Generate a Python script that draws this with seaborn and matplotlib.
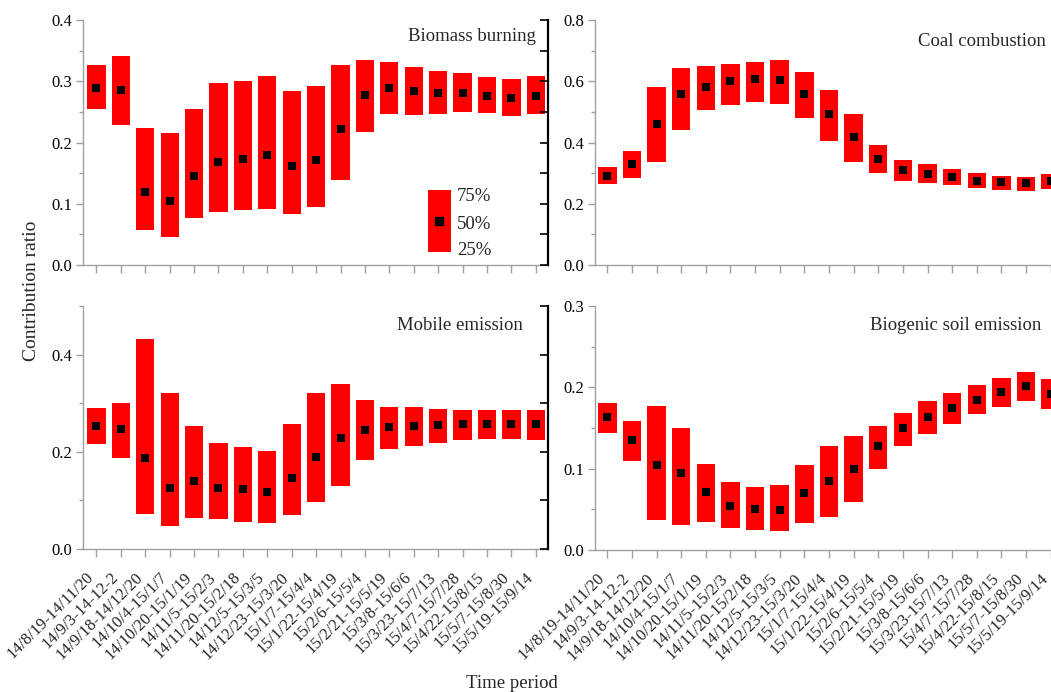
import numpy as np
import pandas as pd
import matplotlib
matplotlib.use("Agg")
import matplotlib.pyplot as plt
import matplotlib.transforms as mtransforms
import seaborn as sns
from matplotlib.patches import Rectangle
from matplotlib.ticker import MultipleLocator, FormatStrFormatter

periods = ["14/8/19-14/11/20", "14/9/3-14-12-2", "14/9/18-14/12/20", "14/10/4-15/1/7",
           "14/10/20-15/1/19", "14/11/5-15/2/3", "14/11/20-15/2/18", "14/12/5-15/3/5",
           "14/12/23-15/3/20", "15/1/7-15/4/4", "15/1/22-15/4/19", "15/2/6-15/5/4",
           "15/2/21-15/5/19", "15/3/8-15/6/6", "15/3/23-15/7/13", "15/4/7-15/7/28",
           "15/4/22-15/8/15", "15/5/7-15/8/30", "15/5/19-15/9/14"]

biomass_q25 = [0.254, 0.229, 0.058, 0.046, 0.076, 0.087, 0.090, 0.092, 0.083, 0.094,
               0.139, 0.218, 0.247, 0.245, 0.247, 0.250, 0.248, 0.244, 0.247]
biomass_q50 = [0.289, 0.286, 0.120, 0.104, 0.145, 0.169, 0.173, 0.179, 0.161, 0.171,
               0.222, 0.278, 0.289, 0.284, 0.281, 0.281, 0.276, 0.273, 0.276]
biomass_q75 = [0.327, 0.341, 0.224, 0.216, 0.254, 0.298, 0.300, 0.309, 0.284, 0.293,
               0.326, 0.335, 0.332, 0.324, 0.317, 0.313, 0.307, 0.303, 0.308]

coal_q25 = [0.264, 0.284, 0.338, 0.442, 0.505, 0.524, 0.533, 0.526, 0.480, 0.405,
            0.337, 0.299, 0.275, 0.267, 0.260, 0.250, 0.246, 0.242, 0.248]
coal_q50 = [0.291, 0.329, 0.462, 0.559, 0.581, 0.600, 0.606, 0.605, 0.559, 0.493,
            0.417, 0.345, 0.309, 0.297, 0.288, 0.276, 0.270, 0.267, 0.273]
coal_q75 = [0.320, 0.373, 0.582, 0.645, 0.649, 0.658, 0.664, 0.668, 0.630, 0.571,
            0.492, 0.392, 0.342, 0.329, 0.315, 0.299, 0.292, 0.288, 0.298]

mobile_q25 = [0.216, 0.188, 0.073, 0.047, 0.064, 0.061, 0.055, 0.053, 0.070, 0.096,
              0.130, 0.183, 0.205, 0.212, 0.218, 0.225, 0.227, 0.227, 0.224]
mobile_q50 = [0.254, 0.247, 0.188, 0.125, 0.139, 0.125, 0.124, 0.117, 0.147, 0.190,
              0.229, 0.245, 0.251, 0.253, 0.255, 0.258, 0.258, 0.258, 0.258]
mobile_q75 = [0.290, 0.301, 0.432, 0.320, 0.254, 0.219, 0.210, 0.201, 0.257, 0.321,
              0.339, 0.306, 0.292, 0.292, 0.289, 0.287, 0.286, 0.286, 0.287]

soil_q25 = [0.144, 0.110, 0.037, 0.031, 0.035, 0.027, 0.025, 0.023, 0.033, 0.041,
            0.059, 0.100, 0.128, 0.143, 0.155, 0.167, 0.176, 0.183, 0.173]
soil_q50 = [0.164, 0.135, 0.104, 0.095, 0.071, 0.054, 0.050, 0.049, 0.070, 0.085,
            0.100, 0.128, 0.150, 0.163, 0.174, 0.185, 0.194, 0.202, 0.192]
soil_q75 = [0.181, 0.159, 0.177, 0.150, 0.106, 0.084, 0.078, 0.080, 0.105, 0.128,
            0.140, 0.153, 0.169, 0.183, 0.193, 0.203, 0.212, 0.219, 0.210]

sns.set_style("ticks")
plt.rcParams['font.family'] = ['Liberation Serif', 'DejaVu Serif']

GREY = '#a0a0a0'
fig = plt.figure(figsize=(10.51, 6.92), dpi=100)

panels = [
    dict(name="Biomass burning", q=(biomass_q25, biomass_q50, biomass_q75),
         ylim=(0, 0.4), major=0.1, minor=0.05, rmajor=0.05,
         pos=[0.079, 0.617, 0.4424, 0.354], xlim=(-0.55, 18.5), left=True,
         bottom_row=False, title_xy=(0.974, 0.932)),
    dict(name="Coal combustion", q=(coal_q25, coal_q50, coal_q75),
         ylim=(0, 0.8), major=0.2, minor=0.1, rmajor=0.1,
         pos=[0.5661, 0.617, 0.4453, 0.354], xlim=(-0.5, 18.5), left=False,
         bottom_row=False, title_xy=(0.964, 0.911)),
    dict(name="Mobile emission", q=(mobile_q25, mobile_q50, mobile_q75),
         ylim=(0, 0.5), major=0.2, minor=0.1, rmajor=0.1,
         pos=[0.079, 0.2066, 0.4424, 0.3512], xlim=(-0.55, 18.5), left=True,
         bottom_row=True, title_xy=(0.946, 0.918)),
    dict(name="Biogenic soil emission", q=(soil_q25, soil_q50, soil_q75),
         ylim=(0, 0.3), major=0.1, minor=0.05, rmajor=0.05,
         pos=[0.5661, 0.2052, 0.4453, 0.3526], xlim=(-0.5, 18.5), left=False,
         bottom_row=True, title_xy=(0.954, 0.922)),
]

# offset of the rotated period labels from (tick, axis bottom), in pixels at 100 dpi
label_offset = mtransforms.ScaledTranslation(-5 / 100, -26 / 100, fig.dpi_scale_trans)

for i, p in enumerate(panels):
    ax = fig.add_axes(p['pos'])
    q25, q50, q75 = p['q']
    df = pd.DataFrame({'period': periods, 'low': q25, 'mid': q50, 'high': q75})
    df['iqr'] = df['high'] - df['low']
    sns.barplot(data=df, x='period', y='iqr', bottom=df['low'].values, color='red',
                saturation=1, width=0.75, errorbar=None, linewidth=0, ax=ax)
    sns.scatterplot(x=np.arange(len(df)), y=df['mid'].values, marker='s', s=26,
                    color='black', linewidth=0, ax=ax, zorder=5)
    ax.set_xlabel('')
    ax.set_ylabel('')
    ax.set_xlim(*p['xlim'])
    ax.set_ylim(*p['ylim'])
    ax.yaxis.set_major_locator(MultipleLocator(p['major']))
    ax.yaxis.set_minor_locator(MultipleLocator(p['minor']))
    ax.yaxis.set_major_formatter(FormatStrFormatter('%.1f'))
    ax.set_xticks(range(len(periods)))
    ax.set_xticklabels([])
    if p['bottom_row']:
        trans = mtransforms.blended_transform_factory(ax.transData, ax.transAxes) + label_offset
        for k, lab in enumerate(periods):
            ax.text(k, 0, lab, transform=trans, rotation=45, ha='right', va='center',
                    rotation_mode='anchor', fontsize=12, clip_on=False)
    for s in ['top', 'right']:
        ax.spines[s].set_visible(False)
    for s in ['left', 'bottom']:
        ax.spines[s].set_color(GREY)
        ax.spines[s].set_linewidth(1.0)
    ax.tick_params(axis='y', which='major', length=5, width=1, color=GREY,
                   labelsize=12, labelcolor='black', pad=3)
    ax.tick_params(axis='y', which='minor', length=3, width=1, color=GREY)
    ax.tick_params(axis='x', which='major', length=6, width=1, color=GREY)
    ax.text(p['title_xy'][0], p['title_xy'][1], p['name'], transform=ax.transAxes,
            ha='right', va='center', fontsize=13.5)

    if p['left']:
        ax2 = ax.twinx()
        ax2.set_ylim(*p['ylim'])
        ax2.yaxis.set_major_locator(MultipleLocator(p['rmajor']))
        ax2.tick_params(axis='y', which='both', direction='in', length=6, width=1.2,
                        color='black', labelright=False)
        for s in ['left', 'top', 'bottom']:
            ax2.spines[s].set_visible(False)
        ax2.spines['right'].set_color('black')
        ax2.spines['right'].set_linewidth(1.6)

    if i == 0:
        ax.add_patch(Rectangle((0.742, 0.053), 0.049, 0.253, transform=ax.transAxes,
                               facecolor='red', edgecolor='none', zorder=6))
        ax.plot([0.766], [0.18], marker='s', ms=5.5, color='black',
                transform=ax.transAxes, zorder=7)
        for ty, lab in [(0.279, '75%'), (0.167, '50%'), (0.058, '25%')]:
            ax.text(0.804, ty, lab, transform=ax.transAxes, ha='left', va='center',
                    fontsize=13.5)

fig.text(32 / 1051, 1 - 291 / 692, 'Contribution ratio', rotation=90,
         ha='center', va='center', fontsize=14)
fig.text(512 / 1051, 1 - 683 / 692, 'Time period', ha='center', va='center',
         fontsize=13.5)

fig.savefig('out.png', dpi=100)
